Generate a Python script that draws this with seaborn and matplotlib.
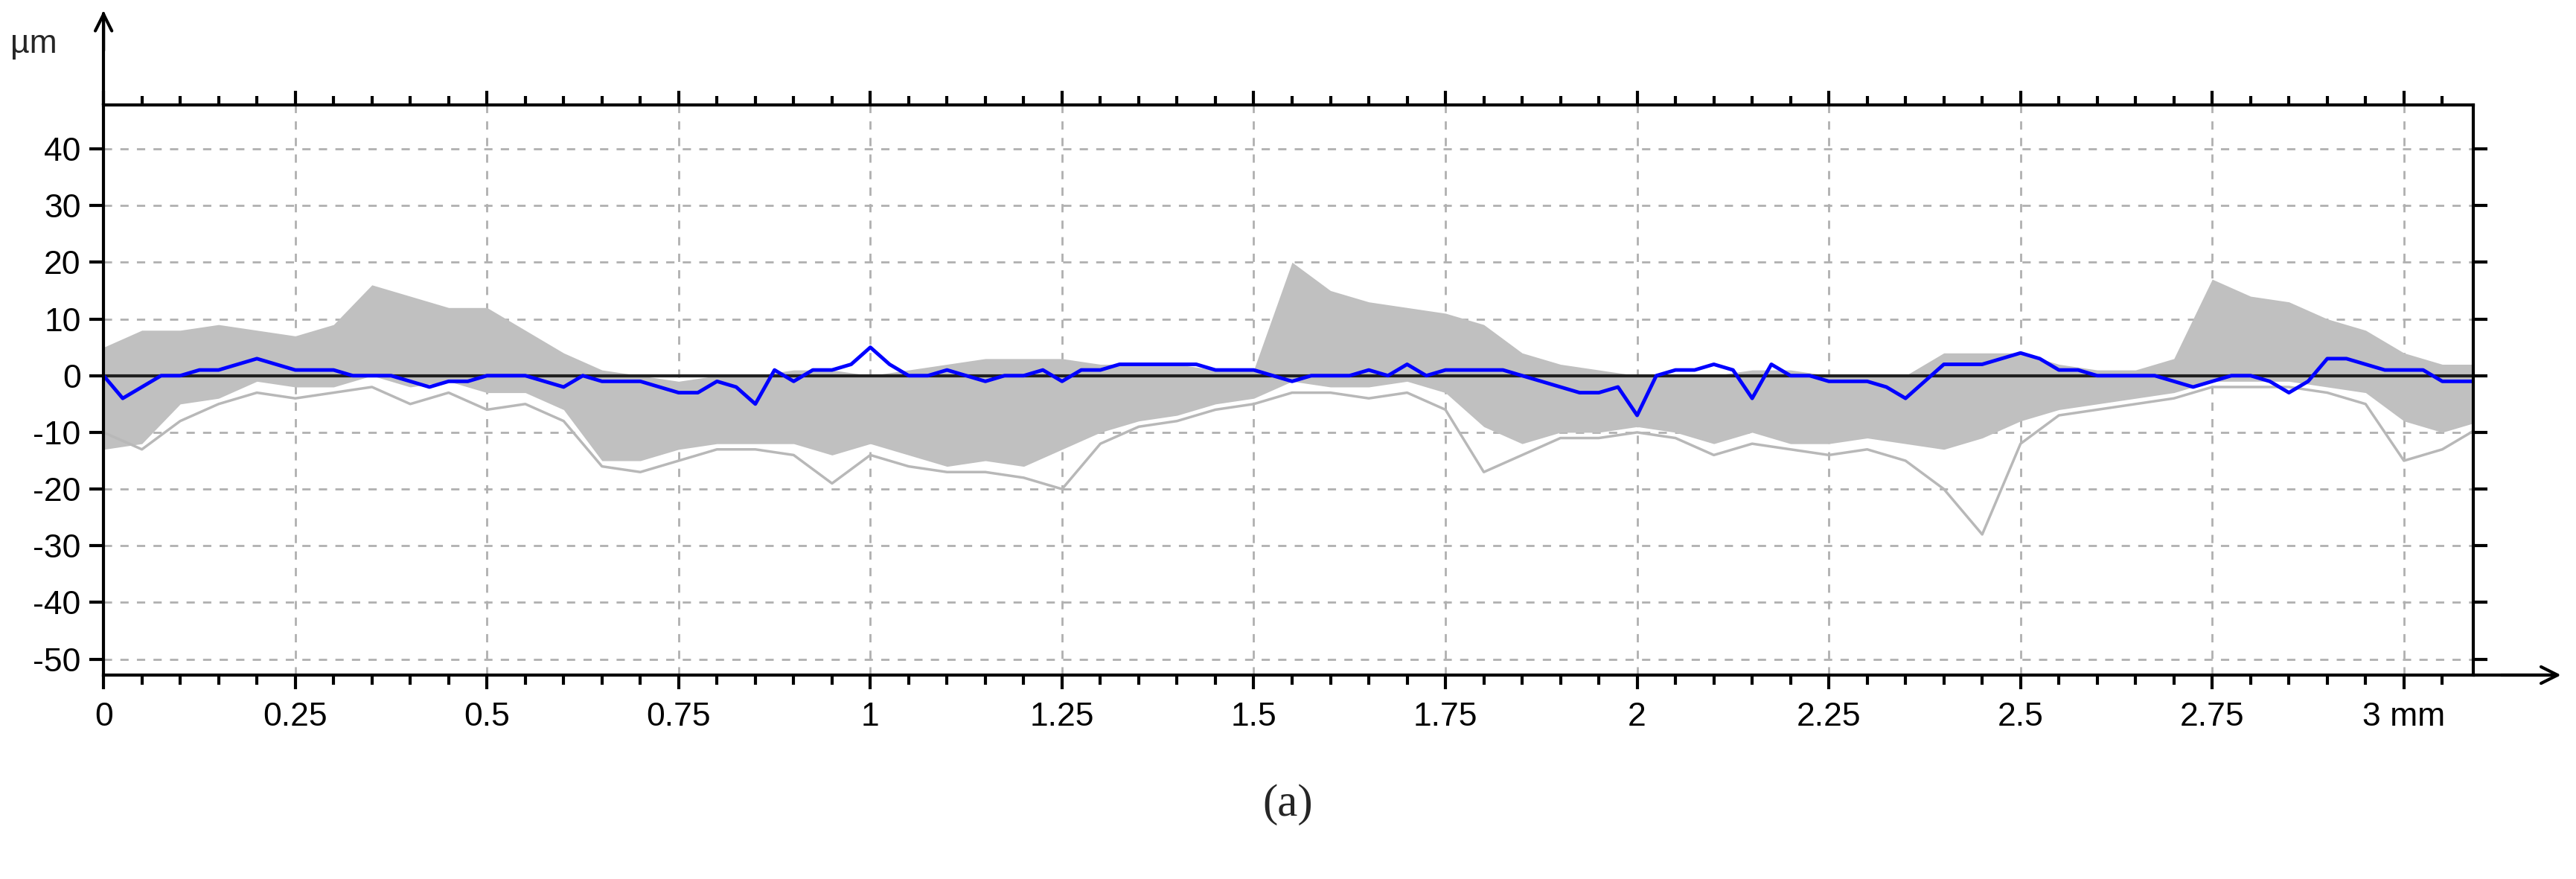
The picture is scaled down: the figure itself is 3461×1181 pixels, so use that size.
import numpy as np
import matplotlib.pyplot as plt
import seaborn as sns

# profile envelope of the grey family of profiles (step 0.05 mm)
band_upper = [5, 8, 8, 9, 8, 7, 9, 16, 14, 12, 12, 8, 4, 1, 0, -1, 0, 0, 1, 1,
              0, 1, 2, 3, 3, 3, 2, 2, 2, 1, 1, 20, 15, 13, 12, 11, 9, 4, 2, 1,
              0, 0, 0, 1, 1, 0, 0, 0, 4, 4, 4, 2, 1, 1, 3, 17, 14, 13, 10, 8,
              4, 2, 2]
band_lower = [-13, -12, -5, -4, -1, -2, -2, 0, -2, -1, -3, -3, -6, -15, -15, -13, -12, -12, -12, -14,
              -12, -14, -16, -15, -16, -13, -10, -8, -7, -5, -4, -1, -2, -2, -1, -3, -9, -12, -10, -10,
              -9, -10, -12, -10, -12, -12, -11, -12, -13, -11, -8, -6, -5, -4, -3, -1, -1, -1, -2, -3,
              -8, -10, -8]
stray_trace = [-10, -13, -8, -5, -3, -4, -3, -2, -5, -3, -6, -5, -8, -16, -17, -15, -13, -13, -14, -19,
               -14, -16, -17, -17, -18, -20, -12, -9, -8, -6, -5, -3, -3, -4, -3, -6, -17, -14, -11, -11,
               -10, -11, -14, -12, -13, -14, -13, -15, -20, -28, -12, -7, -6, -5, -4, -2, -2, -2, -3, -5,
               -15, -13, -9]
# highlighted profile (step 0.025 mm)
blue_profile = [0, -4, -2, 0, 0, 1, 1, 2, 3, 2, 1, 1, 1, 0, 0, 0, -1, -2, -1, -1,
                0, 0, 0, -1, -2, 0, -1, -1, -1, -2, -3, -3, -1, -2, -5, 1, -1, 1, 1, 2,
                5, 2, 0, 0, 1, 0, -1, 0, 0, 1, -1, 1, 1, 2, 2, 2, 2, 2, 1, 1,
                1, 0, -1, 0, 0, 0, 1, 0, 2, 0, 1, 1, 1, 1, 0, -1, -2, -3, -3, -2,
                -7, 0, 1, 1, 2, 1, -4, 2, 0, 0, -1, -1, -1, -2, -4, -1, 2, 2, 2, 3,
                4, 3, 1, 1, 0, 0, 0, 0, -1, -2, -1, 0, 0, -1, -3, -1, 3, 3, 2, 1,
                1, 1, -1, -1, -1]
x_ticks = [0, 0.25, 0.5, 0.75, 1, 1.25, 1.5, 1.75, 2, 2.25, 2.5, 2.75, 3]
x_labels = ['0', '0.25', '0.5', '0.75', '1', '1.25', '1.5', '1.75', '2', '2.25', '2.5', '2.75', '3 mm']
y_ticks = [-50, -40, -30, -20, -10, 0, 10, 20, 30, 40]

sns.set_style('white')
plt.rcParams['font.family'] = ['Liberation Sans', 'DejaVu Sans']
plt.rcParams['axes.unicode_minus'] = False

xb = np.linspace(0, 3.1, len(band_upper))
xp = np.linspace(0, 3.1, len(blue_profile))

fig = plt.figure(figsize=(34.61, 11.81), dpi=100)
ax = fig.add_axes([0.0402, 0.232, 0.9198, 0.649])

ax.fill_between(xb, band_lower, band_upper, color='#c0c0c0', lw=0)
sns.lineplot(x=xb, y=stray_trace, ax=ax, color='#b8b8b8', lw=2.5)
ax.axhline(0, color='#202020', lw=3)
sns.lineplot(x=xp, y=blue_profile, ax=ax, color='#0000ff', lw=3.5)

ax.set_xlim(0, 3.09)
ax.set_ylim(-52.8, 47.8)
ax.set_xticks(x_ticks)
ax.set_xticklabels(x_labels)
ax.set_xticks(np.arange(0, 3.1, 0.05), minor=True)
ax.set_yticks(y_ticks)
ax.grid(True, which='major', color='#b0b0b0', ls=(0, (4, 4)), lw=2)
ax.tick_params(axis='both', which='both', direction='out', width=3, labelsize=32, colors='black')
ax.tick_params(axis='x', which='major', length=14, top=True, bottom=True, pad=12)
ax.tick_params(axis='x', which='minor', length=9, top=True, bottom=True)
ax.tick_params(axis='y', which='major', length=14, left=True, right=True, pad=8)
for s in ax.spines.values():
    s.set_linewidth(3)
    s.set_color('black')

# axis arrows
fig.add_artist(plt.Line2D([0.0402, 0.0402], [0.881, 0.985], color='black', lw=3))
ax.annotate('', xy=(0.0402, 0.99), xytext=(0.0402, 0.94), xycoords='figure fraction',
            arrowprops=dict(arrowstyle='->', lw=3, color='black', mutation_scale=40))
fig.add_artist(plt.Line2D([0.96, 0.99], [0.232, 0.232], color='black', lw=3))
ax.annotate('', xy=(0.995, 0.232), xytext=(0.97, 0.232), xycoords='figure fraction',
            arrowprops=dict(arrowstyle='->', lw=3, color='black', mutation_scale=40))
fig.text(0.004, 0.95, 'µm', fontsize=32, ha='left', va='center')
fig.text(0.5, 0.085, '(a)', fontsize=44, ha='center', va='center', family=['Liberation Serif'])

plt.savefig('out.png')
